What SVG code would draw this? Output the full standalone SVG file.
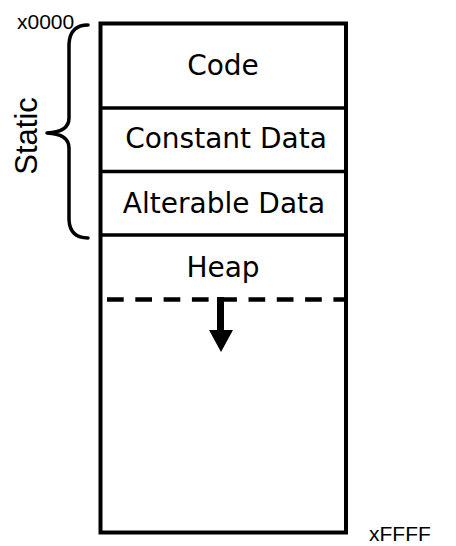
<svg xmlns="http://www.w3.org/2000/svg" width="456" height="546" viewBox="0 0 456 546">
  <style>
    .seg { font-family: "Comic Sans MS", "DejaVu Sans", sans-serif; font-size: 28px; fill: #000; text-anchor: middle; }
    .lbl { font-family: "Liberation Sans", Arial, sans-serif; fill: #000; }
    .frame { fill: #fff; stroke: #000; stroke-width: 4; }
    .div { stroke: #000; stroke-width: 3.5; fill: none; }
  </style>
  <rect width="456" height="546" fill="#fff"/>

  <!-- memory block outline -->
  <g id="memory">
    <rect class="frame" x="100.5" y="23.5" width="245.5" height="509"/>
  </g>

  <!-- segments -->
  <g id="code">
    <line class="div" x1="100" y1="108" x2="346" y2="108"/>
    <text class="seg" x="223" y="75">Code</text>
  </g>
  <g id="constant-data">
    <line class="div" x1="100" y1="171.5" x2="346" y2="171.5"/>
    <text class="seg" x="226" y="148">Constant Data</text>
  </g>
  <g id="alterable-data">
    <line class="div" x1="100" y1="235" x2="346" y2="235"/>
    <text class="seg" x="224" y="213">Alterable Data</text>
  </g>
  <g id="heap">
    <text class="seg" x="223" y="277">Heap</text>
  </g>

  <!-- heap boundary and growth direction -->
  <g id="connectors">
    <line x1="107" y1="299.5" x2="345" y2="299.5" stroke="#000" stroke-width="4.5" stroke-dasharray="16.7 11.6"/>
    <rect x="217" y="297" width="7" height="34" fill="#000"/>
    <polygon points="209,330 233,330 221,352" fill="#000"/>
  </g>

  <!-- static region brace -->
  <g id="static">
    <path d="M88,25 Q70,25 69,44 L69,118 Q69,132 47,133 Q69,134 69,148 L69,220 Q70,238 88,238" fill="none" stroke="#000" stroke-width="3.5" stroke-linecap="round" stroke-linejoin="round"/>
    <text class="lbl" font-size="31" transform="translate(37,136) rotate(-90)" text-anchor="middle">Static</text>
  </g>

  <!-- address labels -->
  <g id="addresses">
    <text class="lbl" font-size="21" x="17" y="29">x0000</text>
    <text class="lbl" font-size="21" x="369" y="541">xFFFF</text>
  </g>
</svg>
